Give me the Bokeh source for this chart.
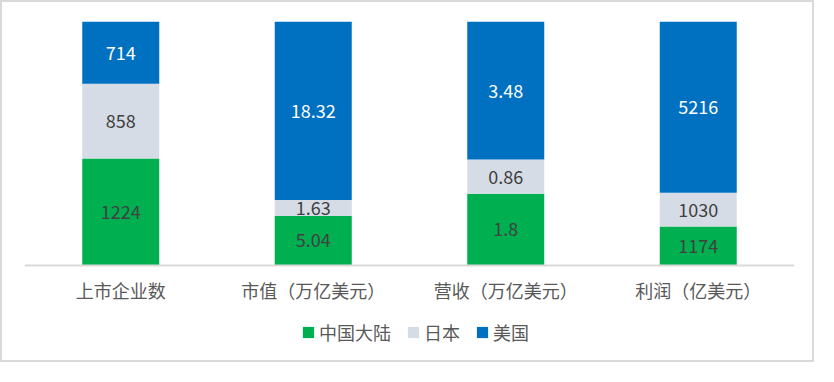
from bokeh.plotting import figure
from bokeh.models import ColumnDataSource, Range1d, FactorRange
from bokeh.core.properties import value
from bokeh.embed import file_html
from bokeh.resources import INLINE

categories = ["上市企业数", "市值（万亿美元）", "营收（万亿美元）", "利润（亿美元）"]
series_names = ["中国大陆", "日本", "美国"]
china = [1224, 5.04, 1.8, 1174]
japan = [858, 1.63, 0.86, 1030]
usa = [714, 18.32, 3.48, 5216]
china_labels = ["1224", "5.04", "1.8", "1174"]
japan_labels = ["858", "1.63", "0.86", "1030"]
usa_labels = ["714", "18.32", "3.48", "5216"]
colors = ["#00B050", "#D6DCE5", "#0070C0"]
label_colors = ["#404040", "#404040", "#FFFFFF"]

totals = [c + j + u for c, j, u in zip(china, japan, usa)]
fc = [c / t for c, t in zip(china, totals)]
fj = [j / t for j, t in zip(japan, totals)]
fu = [u / t for u, t in zip(usa, totals)]

src = ColumnDataSource(dict(x=categories, cn=fc, jp=fj, us=fu))

FONT = "Noto Sans CJK SC"

p = figure(x_range=FactorRange(*categories, range_padding=0), y_range=Range1d(-0.392, 1),
           width=814, height=362, output_backend="svg", toolbar_location=None,
           min_border_left=22, min_border_right=22, min_border_top=19, min_border_bottom=4)
p.styles = {"border": "2px solid #d9d9d9"}

p.vbar_stack(["cn", "jp", "us"], x="x", width=0.4, source=src, color=colors,
             line_color=None, legend_label=series_names)

# labels at segment centres
bottoms = [0.0] * 4
for fr, labs, col in [(fc, china_labels, label_colors[0]), (fj, japan_labels, label_colors[1]),
                      (fu, usa_labels, label_colors[2])]:
    ys = [b + f / 2 for b, f in zip(bottoms, fr)]
    lsrc = ColumnDataSource(dict(x=categories, y=ys, t=labs))
    p.text(x="x", y="y", text="t", source=lsrc, text_align="center", text_baseline="middle",
           text_font=value(FONT), text_font_size="18px", text_color=col)
    bottoms = [b + f for b, f in zip(bottoms, fr)]

p.yaxis.visible = False
p.xgrid.grid_line_color = None
p.ygrid.grid_line_color = None
p.outline_line_color = None
p.xaxis.fixed_location = 0
p.xaxis.axis_line_color = "#d9d9d9"
p.xaxis.axis_line_width = 2
p.xaxis.major_tick_line_color = None
p.xaxis.minor_tick_line_color = None
p.xaxis.major_tick_out = 0
p.xaxis.major_tick_in = 0
p.xaxis.major_label_standoff = 12
p.xaxis.major_label_text_font = FONT
p.xaxis.major_label_text_font_size = "18px"
p.xaxis.major_label_text_color = "#595959"

lg = p.legend[0]
lg.orientation = "horizontal"
lg.location = (277, 15)
lg.border_line_color = None
lg.background_fill_alpha = 0
lg.padding = 0
lg.margin = 0
lg.spacing = 15
lg.glyph_width = 14
lg.glyph_height = 14
lg.label_standoff = 4
lg.label_text_font = FONT
lg.label_text_font_size = "18px"
lg.label_text_color = "#595959"

open("out.html", "w").write(file_html(p, INLINE))
